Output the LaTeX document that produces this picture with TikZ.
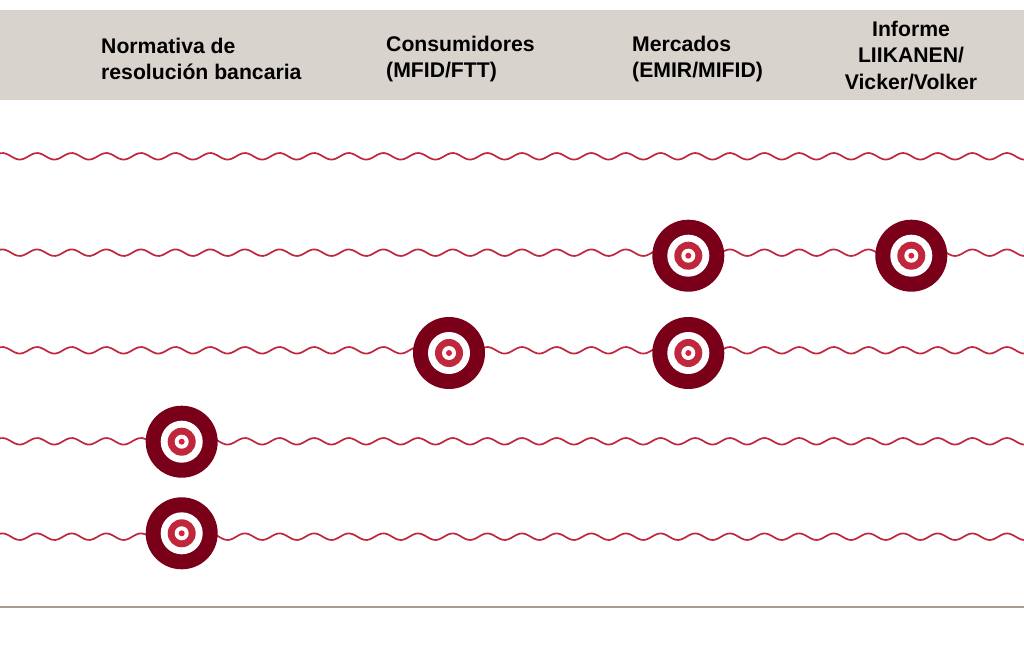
\documentclass[tikz,border=0pt]{standalone}
\usepackage{fontspec}
\setmainfont{Liberation Sans}
\definecolor{hdr}{HTML}{D9D3CE}
\definecolor{wine}{HTML}{7A0019}
\definecolor{wavered}{HTML}{C0273D}
\definecolor{dotred}{HTML}{E0203A}
\definecolor{rulec}{HTML}{A79C92}
\tikzset{
  wave/.style={draw=wavered,line width=1.7pt},
  head/.style={font=\fontsize{21.2pt}{26.8pt}\selectfont\bfseries,text=black,inner sep=0pt},
  disc/.style={circle,fill=#1,draw=none,inner sep=0pt},
  target/.pic={
    \node[disc=wine,minimum size=72pt] (-a) at (0,0) {};
    \node[disc=white,minimum size=42pt] (-b) at (0,0) {};
    \node[disc=wavered,minimum size=28pt] (-c) at (0,0) {};
    \node[disc=white,minimum size=14pt] (-d) at (0,0) {};
    \node[disc=dotred,minimum size=6pt] (-e) at (0,0) {};
  }
}
\begin{document}
\begin{tikzpicture}[x=1pt,y=-1pt]
\useasboundingbox (0,0) rectangle (1024,660);
\clip (0,0) rectangle (1024,660);
\fill[white] (0,0) rectangle (1024,660);
\fill[hdr] (0,10) rectangle (1024,100);
\node[head,align=left,anchor=west] (h1) at (101,59) {Normativa de\\resolución bancaria};
\node[head,align=left,anchor=west] (h2) at (386,59) {Consumidores\\(MFID/FTT)};
\node[head,align=left,anchor=west] (h3) at (632,59) {Mercados\\(EMIR/MIFID)};
\node[head,align=center] (h4) at (911,55.5) {Informe\\LIIKANEN/\\Vicker/Volker};
\foreach \yy in {156.3,252.7,350.3,441.3,536.7}{
  \draw[wave] plot[smooth,domain=-5:1030,samples=360] (\x,{\yy-3.3*cos(10.3926*(\x-2.4))});
}
\pic (t1) at (688.3,255.7) {target};
\pic (t2) at (911.3,255.7) {target};
\pic (t3) at (449,353) {target};
\pic (t4) at (688.3,353) {target};
\pic (t5) at (181.7,441.7) {target};
\pic (t6) at (181.7,533.3) {target};
\coordinate (ra) at (0,606.7);
\coordinate (rb) at (1024,606.7);
\draw[rulec,line width=2pt] (ra) -- (rb);
\end{tikzpicture}
\end{document}
